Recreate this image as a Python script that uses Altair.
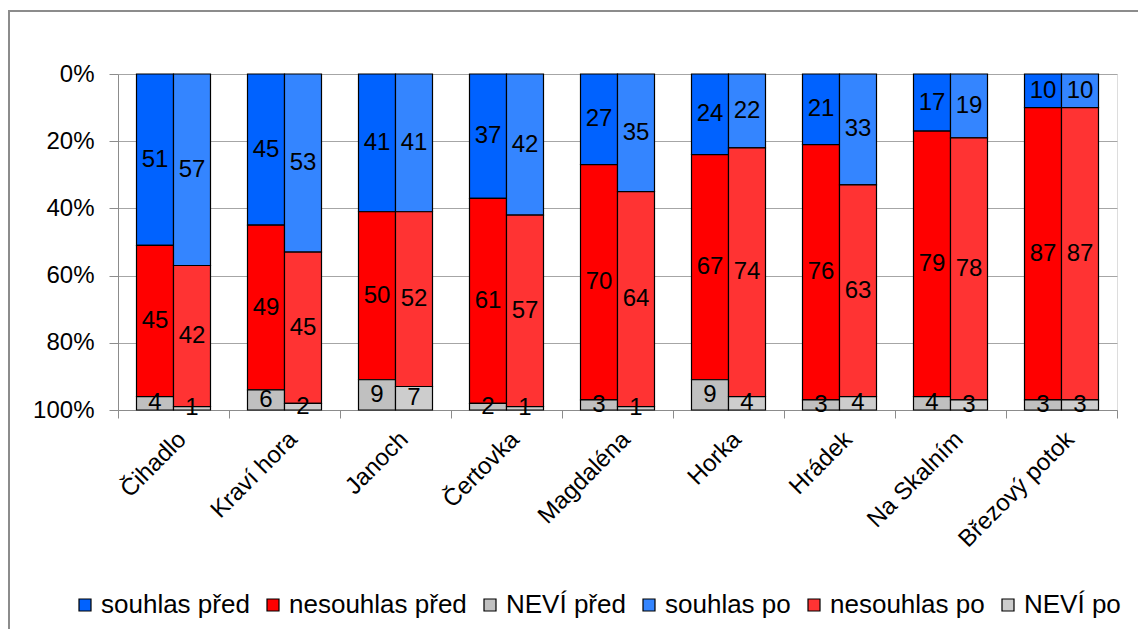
import altair as alt
import pandas as pd

categories = ["Čihadlo", "Kraví hora", "Janoch", "Čertovka", "Magdaléna",
              "Horka", "Hrádek", "Na Skalním", "Březový potok"]
souhlas_pred = [51, 45, 41, 37, 27, 24, 21, 17, 10]
nesouhlas_pred = [45, 49, 50, 61, 70, 67, 76, 79, 87]
nevi_pred = [4, 6, 9, 2, 3, 9, 3, 4, 3]
souhlas_po = [57, 53, 41, 42, 35, 22, 33, 19, 10]
nesouhlas_po = [42, 45, 52, 57, 64, 74, 63, 78, 87]
nevi_po = [1, 2, 7, 1, 1, 4, 4, 3, 3]

series_names = ["souhlas před", "nesouhlas před", "NEVÍ před",
                "souhlas po", "nesouhlas po", "NEVÍ po"]
series_colors = ["#0062FF", "#FF0000", "#C0C0C0",
                 "#3485FF", "#FF3333", "#CDCDCD"]
phases = ["před", "po"]

rows = []
for phase, vals in [("před", [souhlas_pred, nesouhlas_pred, nevi_pred]),
                    ("po", [souhlas_po, nesouhlas_po, nevi_po])]:
    for k, (ans, arr) in enumerate(zip(["souhlas", "nesouhlas", "NEVÍ"], vals)):
        for i, c in enumerate(categories):
            rows.append({"category": c, "phase": phase, "order": k,
                         "series": f"{ans} {phase}", "value": arr[i]})
df = pd.DataFrame(rows)

FONT = "Liberation Sans"

x_enc = alt.X("category:N", sort=categories, title=None,
              scale=alt.Scale(paddingInner=0, paddingOuter=0),
              axis=alt.Axis(labelAngle=-45, labelFontSize=24, labelFont=FONT,
                            labelColor="black", tickBand="extent", tickSize=8,
                            tickColor="#8c8c8c", domainColor="#8c8c8c",
                            labelPadding=9, grid=False))
xo_enc = alt.XOffset("phase:N", sort=phases,
                     scale=alt.Scale(paddingOuter=0.5, paddingInner=0))

base = alt.Chart(df).transform_stack(
    stack="value", groupby=["category", "phase"], as_=["y0", "y1"],
    sort=[alt.SortField("order", order="ascending")]
).transform_calculate(mid="(datum.y0 + datum.y1) / 2")

y_scale = alt.Scale(domain=[0, 100], reverse=True, nice=False)

bars = base.mark_bar(stroke="black", strokeWidth=1.2, opacity=1).encode(
    x=x_enc, xOffset=xo_enc,
    y=alt.Y("y0:Q", scale=y_scale, title=None,
            axis=alt.Axis(values=[0, 20, 40, 60, 80, 100],
                          labelExpr="datum.value + '%'",
                          labelFontSize=24, labelFont=FONT, labelColor="black",
                          tickSize=9, tickColor="#8c8c8c", domainColor="#8c8c8c",
                          gridColor="#a6a6a6", labelPadding=15)),
    y2="y1:Q",
    color=alt.Color("series:N",
                    scale=alt.Scale(domain=series_names, range=series_colors),
                    legend=alt.Legend(title=None, orient="none", direction="horizontal",
                                      columns=6, legendX=-46, legendY=518,
                                      gridAlign="none", labelLimit=500,
                                      labelFontSize=26, labelFont=FONT,
                                      labelColor="black", symbolType="square",
                                      symbolSize=144, symbolStrokeColor="black",
                                      symbolStrokeWidth=1.2, symbolOpacity=1,
                                      columnPadding=10, labelOffset=3)),
)

labels = base.mark_text(fontSize=24, font=FONT, color="black",
                        baseline="middle", align="center").encode(
    x=alt.X("category:N", sort=categories), xOffset=xo_enc,
    y=alt.Y("mid:Q", scale=y_scale),
    text=alt.Text("value:Q"),
)

frame = alt.Chart(pd.DataFrame({"a": [0]})).mark_rect(
    fill=None, stroke="#8c8c8c", strokeWidth=2).encode(
    x=alt.value(-109), x2=alt.value(1100), y=alt.value(-63), y2=alt.value(620))

chart = alt.layer(frame, bars, labels).properties(
    width=999, height=336,
    padding={"left": 110, "top": 66, "right": 21, "bottom": 219},
    autosize=alt.AutoSizeParams(type="none"),
).configure_view(stroke=None).configure(background="white")

chart.save("out.html", embed_options={"renderer": "svg", "actions": False})
